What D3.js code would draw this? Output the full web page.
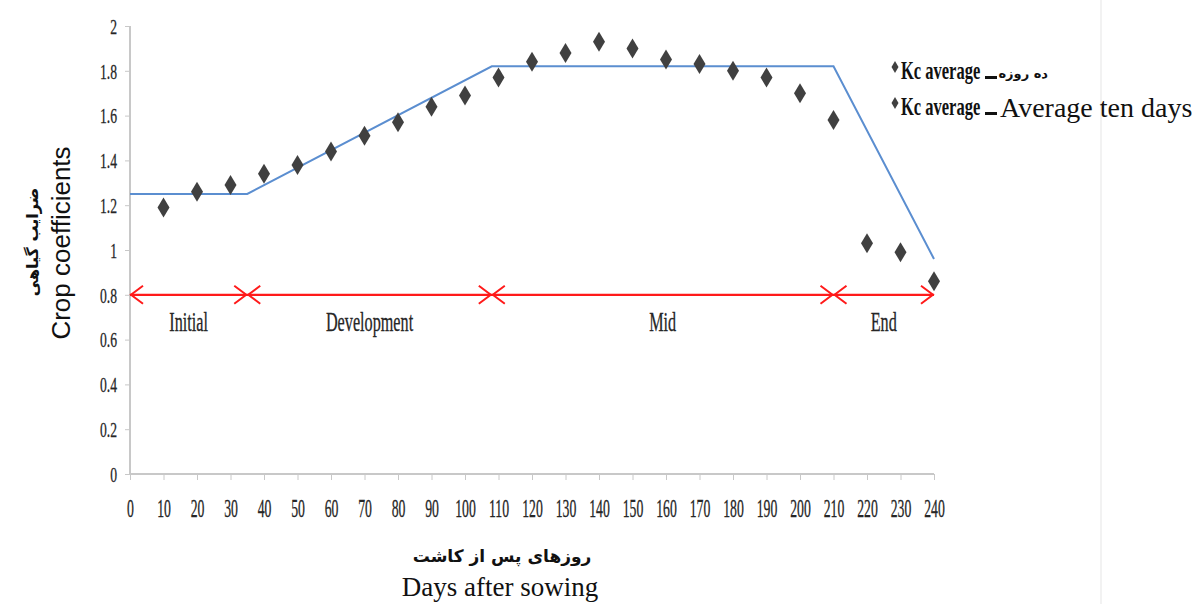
<!DOCTYPE html>
<html><head><meta charset="utf-8">
<script src="https://cdn.jsdelivr.net/npm/d3@7"></script>
<style>body{margin:0;background:#fff}svg{display:block}</style>
</head><body>
<svg id="c" width="1197" height="604"></svg>
<script>
const days = [10,20,30,40,50,60,70,80,90,100,110,120,130,140,150,160,170,180,190,200,210,220,230,240];
const kcTenDay = [1.19,1.26,1.29,1.34,1.38,1.44,1.51,1.57,1.64,1.69,1.77,1.84,1.88,1.93,1.90,1.85,1.83,1.80,1.77,1.70,1.58,1.03,0.99,0.86];
const fitDays = [0,35,108,210,240];
const fitKc = [1.25,1.25,1.82,1.82,0.96];
const stageNames = ["Initial","Development","Mid","End"];
const stageBounds = [0,35,108,210,240];
const stageKc = 0.8;
const xTicks = d3.range(0,241,10);
const yTicks = [0,0.2,0.4,0.6,0.8,1,1.2,1.4,1.6,1.8,2];
const legendLabels = ["Kc average", "Kc average"];
const legendTails = ["ده روزه", "Average ten days"];

const svg = d3.select("#c");
const x = d3.scaleLinear().domain([0,240]).range([130,934]);
const y = d3.scaleLinear().domain([0,2]).range([474,26]);
const serif = "'Liberation Serif','Times New Roman',serif";
const ink = "#262626";

// faint right border
svg.append("line").attr("x1",1101).attr("x2",1101).attr("y1",0).attr("y2",604)
  .attr("stroke","#f2f2f2").attr("stroke-width",2);

// axes
const yAxis = svg.append("g").attr("transform","translate(130,0)")
  .call(d3.axisLeft(y).tickValues(yTicks).tickSize(5).tickFormat(d=>String(+d.toFixed(1))));
const xAxis = svg.append("g").attr("transform","translate(0,474)")
  .call(d3.axisBottom(x).tickValues(xTicks).tickSize(6).tickFormat(d3.format("d")));
[yAxis,xAxis].forEach(g=>{
  g.select(".domain").attr("stroke","#c8c8c8").attr("stroke-width",2);
  g.selectAll(".tick line").attr("stroke","#c8c8c8");
  g.selectAll("text").attr("fill",ink).attr("font-family",serif)
    .attr("stroke",ink).attr("stroke-width",0.3);
});
yAxis.selectAll(".tick text").each(function(){
  d3.select(this).attr("x",null).attr("dy",null).attr("dominant-baseline","central")
   .attr("text-anchor","end").attr("font-size",22).attr("transform","translate(-13,0) scale(0.62,1)");
});
xAxis.selectAll(".tick text").each(function(){
  d3.select(this).attr("y",null).attr("dy",null).attr("dominant-baseline","central")
   .attr("font-size",25).attr("transform","translate(0,34) scale(0.55,1)");
});
yAxis.select(".domain").attr("d",`M0,${y(2)}V${y(0)}`);
xAxis.select(".domain").attr("d",`M${x(0)},0H${x(240)}`);

// stage arrows
const red="#ff1a1a";
const ys=y(stageKc);
svg.append("line").attr("x1",x(0)).attr("x2",x(240)).attr("y1",ys).attr("y2",ys)
  .attr("stroke",red).attr("stroke-width",2.2);
const ah=(px,dir)=>`M${px-dir*12},${ys-9}L${px},${ys}L${px-dir*12},${ys+9}`;
for(let i=0;i<stageNames.length;i++){
  const a=x(stageBounds[i]), b=x(stageBounds[i+1]);
  svg.append("path").attr("d",ah(a+1,-1)).attr("fill","none").attr("stroke",red).attr("stroke-width",2);
  svg.append("path").attr("d",ah(b-1,1)).attr("fill","none").attr("stroke",red).attr("stroke-width",2);
  svg.append("text").attr("transform",`translate(${(a+b)/2},${ys+36}) scale(0.6,1)`)
    .attr("text-anchor","middle").attr("font-family",serif).attr("font-size",27).attr("fill",ink)
    .attr("stroke",ink).attr("stroke-width",0.3)
    .text(stageNames[i]);
}

// fit line
svg.append("path").datum(fitDays.map((d,i)=>[d,fitKc[i]]))
  .attr("d",d3.line().x(d=>x(d[0])).y(d=>y(d[1])))
  .attr("fill","none").attr("stroke","#5b8ed0").attr("stroke-width",2);

// diamonds
const dia=(w,h)=>`M0,${-h}L${w},0L0,${h}L${-w},0Z`;
svg.append("g").selectAll("path").data(days).join("path")
  .attr("transform",(d,i)=>`translate(${x(d)},${y(kcTenDay[i])})`)
  .attr("d",dia(6,10)).attr("fill","#404040");

// legend
const lg=svg.append("g");
[79,115].forEach((ly,i)=>{
  lg.append("path").attr("transform",`translate(895,${ly-12})`).attr("d",dia(3.5,6)).attr("fill","#404040");
  lg.append("text").attr("transform",`translate(901,${ly}) scale(0.66,1)`)
    .attr("font-family",serif).attr("font-size",25).attr("font-weight","bold").attr("fill","#111")
    .text(legendLabels[i]);
  lg.append("rect").attr("x",985).attr("y",ly-3).attr("width",12).attr("height",3).attr("fill","#111");
  if(i===0){
    lg.append("text").attr("x",1048).attr("y",ly-1).attr("direction","rtl").attr("text-anchor","start")
      .attr("font-family","'DejaVu Sans',sans-serif").attr("font-size",13).attr("font-weight","bold").attr("fill","#111")
      .text(legendTails[i]);
  } else {
    lg.append("text").attr("x",1000).attr("y",ly+2).attr("font-family",serif).attr("font-size",28).attr("fill","#111")
      .text(legendTails[i]);
  }
});

// axis titles
svg.append("text").attr("transform","translate(70,243) rotate(-90)").attr("text-anchor","middle")
  .attr("font-family","'Liberation Sans',Arial,sans-serif").attr("font-size",26).attr("fill","#111")
  .text("Crop coefficients");
svg.append("text").attr("transform","translate(38,242) rotate(-90)").attr("text-anchor","middle")
  .attr("font-family","'DejaVu Sans',sans-serif").attr("font-size",16).attr("font-weight","bold").attr("fill","#111")
  .attr("direction","rtl").text("ضرایب گیاهی");
svg.append("text").attr("x",502).attr("y",562).attr("text-anchor","middle").attr("direction","rtl")
  .attr("font-family","'DejaVu Sans',sans-serif").attr("font-size",17).attr("font-weight","bold").attr("fill","#111")
  .text("روزهای پس از کاشت");
svg.append("text").attr("x",500).attr("y",596).attr("text-anchor","middle")
  .attr("font-family",serif).attr("font-size",27).attr("fill","#111")
  .text("Days after sowing");
</script>
</body></html>
